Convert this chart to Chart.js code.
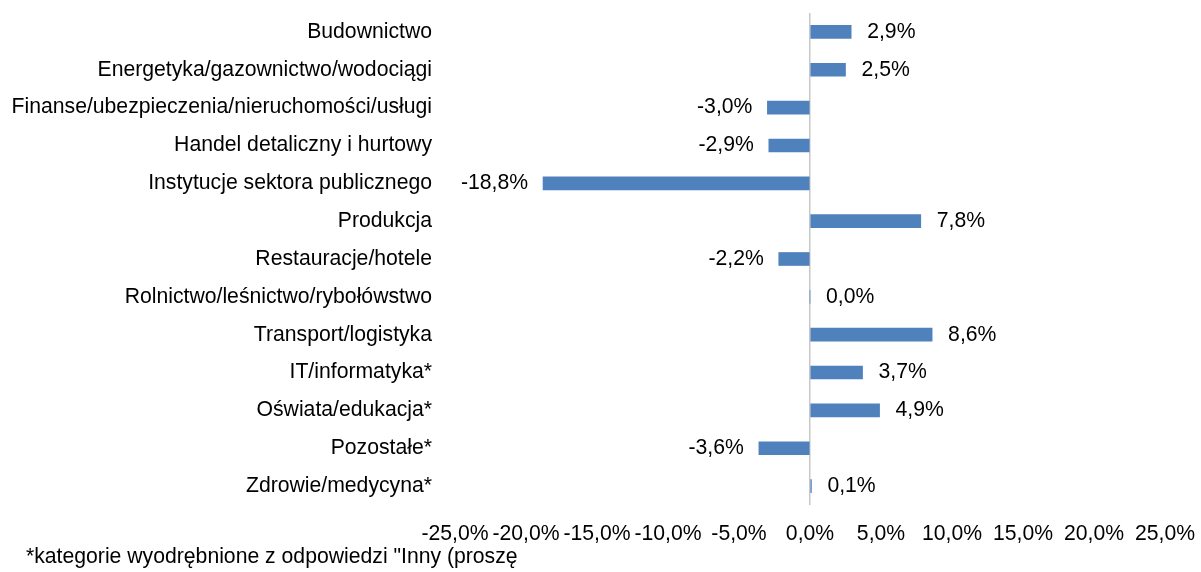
<!DOCTYPE html>
<html>
<head>
<meta charset="utf-8">
<script src="https://cdn.jsdelivr.net/npm/chart.js@4/dist/chart.umd.min.js"></script>
<style>
  html, body { margin: 0; padding: 0; background: #fff; }
  #wrap { width: 1201px; height: 572px; }
</style>
</head>
<body>
<div id="wrap"><canvas id="sectorChart" width="1201" height="572"></canvas></div>
<script>
// Categories and values (percent change)
const categories = [
  'Budownictwo',
  'Energetyka/gazownictwo/wodociągi',
  'Finanse/ubezpieczenia/nieruchomości/usługi',
  'Handel detaliczny i hurtowy',
  'Instytucje sektora publicznego',
  'Produkcja',
  'Restauracje/hotele',
  'Rolnictwo/leśnictwo/rybołówstwo',
  'Transport/logistyka',
  'IT/informatyka*',
  'Oświata/edukacja*',
  'Pozostałe*',
  'Zdrowie/medycyna*'
]
const changes = [2.9, 2.5, -3.0, -2.9, -18.8, 7.8, -2.2, 0.0, 8.6, 3.7, 4.9, -3.6, 0.1]
const axisTicks = [-25, -20, -15, -10, -5, 0, 5, 10, 15, 20, 25]
const footnote = '*kategorie wyodrębnione z odpowiedzi "Inny (proszę'

const FONT = "'Liberation Sans', Arial, sans-serif"
const FONT_SIZE = 21.2

function formatPct(v) {
  return v.toFixed(1).replace('.', ',') + '%'
}

// No automatic label padding, the layout padding decides the plot area
function noAxisPadding(axis) {
  axis.paddingLeft = 0
  axis.paddingRight = 0
  axis.paddingTop = 0
  axis.paddingBottom = 0
}

// Draw value labels next to the bars and the footnote
const labelPlugin = {
  id: 'valueLabels',
  afterDatasetsDraw(chart) {
    const ctx = chart.ctx
    const meta = chart.getDatasetMeta(0)
    ctx.save()
    ctx.font = FONT_SIZE + 'px ' + FONT
    ctx.fillStyle = '#000'
    ctx.textBaseline = 'middle'
    meta.data.forEach((bar, i) => {
      const v = changes[i]
      if (v >= 0) {
        ctx.textAlign = 'left'
        ctx.fillText(formatPct(v), bar.x + 16, bar.y)
      } else {
        ctx.textAlign = 'right'
        ctx.fillText(formatPct(v), bar.x - 15, bar.y)
      }
    })
    ctx.textAlign = 'left'
    ctx.fillText(footnote, 26, 557)
    ctx.restore()
  }
}

const ctx = document.getElementById('sectorChart').getContext('2d')
new Chart(ctx, {
  type: 'bar',
  data: {
    labels: categories,
    datasets: [
      {
        data: changes,
        backgroundColor: '#4F81BD',
        barThickness: 13
      }
    ]
  },
  options: {
    indexAxis: 'y',
    responsive: false,
    animation: false,
    layout: {
      padding: { top: 13, right: 36, bottom: 0, left: 0 }
    },
    plugins: {
      legend: { display: false },
      tooltip: { enabled: false }
    },
    scales: {
      x: {
        min: -25,
        max: 25,
        afterBuildTicks: axis => {
          axis.ticks = axisTicks.map(v => ({ value: v }))
        },
        afterFit: axis => {
          axis.height = 67
          noAxisPadding(axis)
        },
        border: { display: false },
        grid: {
          drawTicks: false,
          color: c => (c.tick && c.tick.value === 0 ? '#c8c8c8' : 'rgba(0,0,0,0)'),
          lineWidth: c => (c.tick && c.tick.value === 0 ? 1.5 : 0)
        },
        ticks: {
          autoSkip: false,
          maxRotation: 0,
          padding: 16,
          color: '#000',
          font: { size: FONT_SIZE, family: FONT },
          callback: v => formatPct(v)
        }
      },
      y: {
        afterFit: axis => {
          axis.width = 455
          noAxisPadding(axis)
        },
        border: { display: false },
        grid: { display: false, drawTicks: false },
        ticks: {
          autoSkip: false,
          padding: 23,
          color: '#000',
          font: { size: FONT_SIZE, family: FONT }
        }
      }
    }
  },
  plugins: [labelPlugin]
})
</script>
</body>
</html>
